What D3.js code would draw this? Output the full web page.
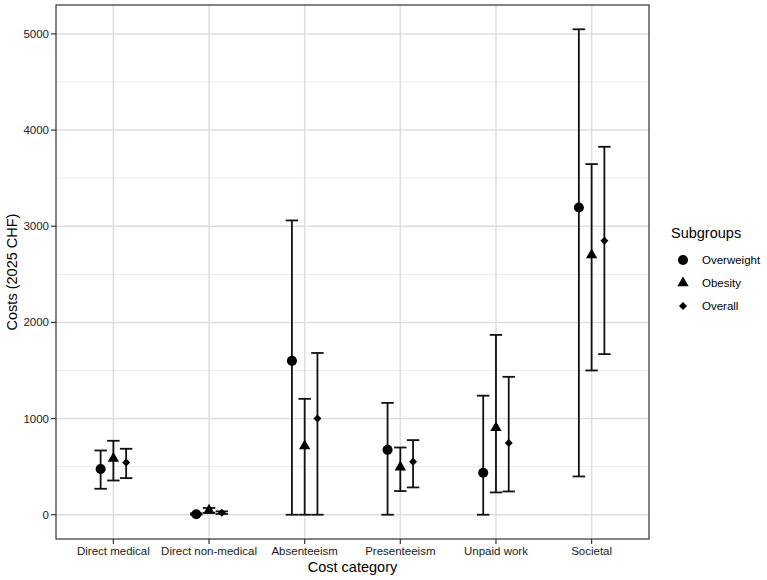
<!DOCTYPE html>
<html lang="en">
<head>
  <meta charset="UTF-8">
  <title>Costs by cost category and subgroup</title>
  <script src="https://d3js.org/d3.v7.min.js"></script>
  <style>
    body { margin: 0; background: white; }
    svg { display: block; font-family: "Liberation Sans", Arial, sans-serif; }
    .tick-label { font-size: 11.5px; fill: #1a1a1a; }
    .axis-title { font-size: 14.5px; fill: #000; }
    .legend-title { font-size: 14.5px; fill: #000; }
    .legend-label { font-size: 11.5px; fill: #000; }
  </style>
</head>
<body>
  <svg width="767" height="580"></svg>

  <script>
    const categories = ["Direct medical", "Direct non-medical", "Absenteeism", "Presenteeism", "Unpaid work", "Societal"];
    const groups = ["Overweight", "Obesity", "Overall"];
    const yTicks = [0, 1000, 2000, 3000, 4000, 5000];

    const overweightMean = [475, 5, 1600, 675, 436, 3195];
    const overweightLow  = [270, 0, 0, 0, 0, 398];
    const overweightHigh = [668, 15, 3060, 1163, 1238, 5048];

    const obesityMean = [585, 45, 715, 495, 904, 2700];
    const obesityLow  = [356, 20, 0, 246, 232, 1500];
    const obesityHigh = [769, 70, 1205, 699, 1870, 3646];

    const overallMean = [543, 20, 1000, 551, 745, 2850];
    const overallLow  = [381, 8, 0, 284, 242, 1670];
    const overallHigh = [686, 35, 1682, 776, 1434, 3826];

    const series = [
      { group: "Overweight", mean: overweightMean, low: overweightLow, high: overweightHigh },
      { group: "Obesity", mean: obesityMean, low: obesityLow, high: obesityHigh },
      { group: "Overall", mean: overallMean, low: overallLow, high: overallHigh }
    ];

    const data = [];
    series.forEach((s, gi) => {
      categories.forEach((c, ci) => {
        data.push({ category: c, group: s.group, gi: gi, mean: s.mean[ci], low: s.low[ci], high: s.high[ci] });
      });
    });

    const panel = { left: 56, right: 649, top: 5, bottom: 539 };
    const svg = d3.select("svg");

    const x = d3.scalePoint()
      .domain(categories)
      .range([panel.left, panel.right])
      .padding(0.6);

    const lo = d3.min(data, d => d.low), hi = d3.max(data, d => d.high);
    const pad = (hi - lo) * 0.05;
    const y = d3.scaleLinear()
      .domain([lo - pad, hi + pad])
      .range([panel.bottom, panel.top]);

    const step = x.step();
    const dodge = 0.4 / 3;
    const xPos = d => x(d.category) + (d.gi - 1) * dodge * step;
    const capHalf = 0.065 * step;

    // grid
    const minorTicks = d3.range(500, 5300, 1000);
    svg.append("g").selectAll("line")
      .data(minorTicks)
      .join("line")
      .attr("x1", panel.left).attr("x2", panel.right)
      .attr("y1", d => y(d)).attr("y2", d => y(d))
      .attr("stroke", "#ebebeb").attr("stroke-width", 1);

    svg.append("g").selectAll("line")
      .data(yTicks)
      .join("line")
      .attr("x1", panel.left).attr("x2", panel.right)
      .attr("y1", d => y(d)).attr("y2", d => y(d))
      .attr("stroke", "#dedede").attr("stroke-width", 1.5);

    svg.append("g").selectAll("line")
      .data(categories)
      .join("line")
      .attr("x1", d => x(d)).attr("x2", d => x(d))
      .attr("y1", panel.top).attr("y2", panel.bottom)
      .attr("stroke", "#dedede").attr("stroke-width", 1.5);

    // error bars
    const eb = svg.append("g")
      .attr("stroke", "#111")
      .attr("stroke-width", 1.8)
      .selectAll("g")
      .data(data)
      .join("g");

    eb.append("line")
      .attr("x1", xPos).attr("x2", xPos)
      .attr("y1", d => y(d.low)).attr("y2", d => y(d.high));
    eb.append("line")
      .attr("x1", d => xPos(d) - capHalf).attr("x2", d => xPos(d) + capHalf)
      .attr("y1", d => y(d.low)).attr("y2", d => y(d.low));
    eb.append("line")
      .attr("x1", d => xPos(d) - capHalf).attr("x2", d => xPos(d) + capHalf)
      .attr("y1", d => y(d.high)).attr("y2", d => y(d.high));

    // point shapes
    const shapes = {
      Overweight: { type: d3.symbolCircle, size: 80, rot: 0, dy: 0 },
      Obesity: { type: d3.symbolTriangle, size: 56, rot: 0, dy: 0 },
      Overall: { type: d3.symbolSquare, size: 32, rot: 45, dy: 0 }
    };
    const symbolPath = g => d3.symbol().type(shapes[g].type).size(shapes[g].size)();

    svg.append("g").selectAll("path")
      .data(data)
      .join("path")
      .attr("d", d => symbolPath(d.group))
      .attr("transform", d => `translate(${xPos(d)},${y(d.mean)}) rotate(${shapes[d.group].rot})`)
      .attr("fill", "#000");

    // panel border
    svg.append("rect")
      .attr("x", panel.left).attr("y", panel.top)
      .attr("width", panel.right - panel.left).attr("height", panel.bottom - panel.top)
      .attr("fill", "none").attr("stroke", "#333").attr("stroke-width", 1.2);

    // y axis
    const yAxis = svg.append("g");
    yAxis.selectAll("line")
      .data(yTicks)
      .join("line")
      .attr("x1", panel.left - 5).attr("x2", panel.left)
      .attr("y1", d => y(d)).attr("y2", d => y(d))
      .attr("stroke", "#333").attr("stroke-width", 1.2);
    yAxis.selectAll("text")
      .data(yTicks)
      .join("text")
      .attr("class", "tick-label")
      .attr("x", panel.left - 7)
      .attr("y", d => y(d))
      .attr("dy", "0.35em")
      .attr("text-anchor", "end")
      .text(d => d);

    // x axis
    const xAxis = svg.append("g");
    xAxis.selectAll("line")
      .data(categories)
      .join("line")
      .attr("x1", d => x(d)).attr("x2", d => x(d))
      .attr("y1", panel.bottom).attr("y2", panel.bottom + 5)
      .attr("stroke", "#333").attr("stroke-width", 1.2);
    xAxis.selectAll("text")
      .data(categories)
      .join("text")
      .attr("class", "tick-label")
      .attr("x", d => x(d))
      .attr("y", panel.bottom + 16)
      .attr("text-anchor", "middle")
      .text(d => d);

    svg.append("text")
      .attr("class", "axis-title")
      .attr("x", (panel.left + panel.right) / 2)
      .attr("y", 572)
      .attr("text-anchor", "middle")
      .text("Cost category");

    svg.append("text")
      .attr("class", "axis-title")
      .attr("transform", "rotate(-90)")
      .attr("x", -(panel.top + panel.bottom) / 2)
      .attr("y", 17)
      .attr("text-anchor", "middle")
      .text("Costs (2025 CHF)");

    // legend
    const legend = svg.append("g").attr("transform", "translate(671,0)");
    legend.append("text")
      .attr("class", "legend-title")
      .attr("x", 0).attr("y", 238)
      .text("Subgroups");
    const rowY = [260, 283, 306];
    groups.forEach((g, i) => {
      legend.append("path")
        .attr("d", symbolPath(g))
        .attr("transform", `translate(12,${rowY[i]}) rotate(${shapes[g].rot})`)
        .attr("fill", "#000");
      legend.append("text")
        .attr("class", "legend-label")
        .attr("x", 31).attr("y", rowY[i])
        .attr("dy", "0.35em")
        .text(g);
    });
  </script>
</body>
</html>
